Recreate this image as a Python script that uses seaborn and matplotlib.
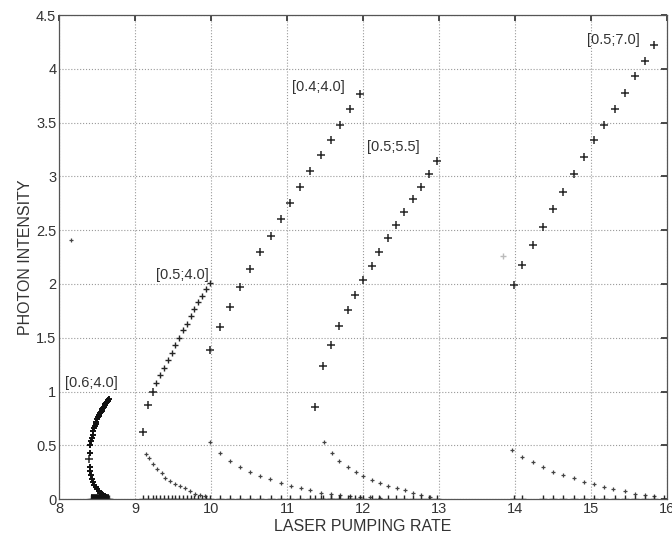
import numpy as np
import pandas as pd
import matplotlib
matplotlib.use("Agg")
import matplotlib.pyplot as plt
import seaborn as sns

# rama superior (+ grandes) y rama inferior (puntos pequeños) por cada caso [a;b]
up_04_40_x = [9.99, 10.12, 10.25, 10.38, 10.51, 10.64, 10.79, 10.92, 11.04, 11.17, 11.30, 11.45, 11.58, 11.70, 11.83, 11.96]
up_04_40_y = [1.39, 1.60, 1.79, 1.97, 2.14, 2.30, 2.45, 2.60, 2.75, 2.90, 3.05, 3.20, 3.34, 3.48, 3.63, 3.77]
lo_04_40_x = [9.99, 10.12, 10.25, 10.38, 10.52, 10.65, 10.78, 10.92, 11.05, 11.18, 11.30, 11.45, 11.58, 11.70, 11.83, 11.96, 12.09, 12.22]
lo_04_40_y = [0.53, 0.43, 0.35, 0.30, 0.25, 0.21, 0.19, 0.15, 0.12, 0.10, 0.08, 0.06, 0.05, 0.04, 0.03, 0.02, 0.015, 0.01]

up_05_55_x = [11.37, 11.47, 11.58, 11.68, 11.80, 11.90, 12.00, 12.12, 12.21, 12.33, 12.43, 12.54, 12.66, 12.76, 12.87, 12.97]
up_05_55_y = [0.86, 1.24, 1.43, 1.61, 1.76, 1.90, 2.04, 2.17, 2.30, 2.43, 2.55, 2.67, 2.79, 2.90, 3.02, 3.14]
lo_05_55_x = [11.49, 11.59, 11.68, 11.80, 11.91, 12.00, 12.12, 12.22, 12.33, 12.45, 12.55, 12.66, 12.77, 12.88]
lo_05_55_y = [0.53, 0.43, 0.35, 0.30, 0.25, 0.21, 0.18, 0.15, 0.12, 0.10, 0.08, 0.06, 0.04, 0.02]

up_05_70_x = [13.99, 14.10, 14.24, 14.37, 14.51, 14.64, 14.78, 14.91, 15.04, 15.17, 15.32, 15.45, 15.58, 15.71, 15.84]
up_05_70_y = [1.99, 2.18, 2.36, 2.53, 2.70, 2.86, 3.02, 3.18, 3.34, 3.48, 3.63, 3.78, 3.93, 4.07, 4.22]
lo_05_70_x = [13.97, 14.10, 14.24, 14.37, 14.50, 14.64, 14.78, 14.91, 15.04, 15.17, 15.30, 15.45, 15.58, 15.71, 15.84]
lo_05_70_y = [0.46, 0.39, 0.34, 0.30, 0.25, 0.22, 0.20, 0.16, 0.14, 0.11, 0.09, 0.07, 0.05, 0.04, 0.03]

up_05_40_x = [9.11, 9.17, 9.23, 9.28, 9.33, 9.38, 9.43, 9.48, 9.53, 9.58, 9.63, 9.68, 9.73, 9.78, 9.83, 9.88, 9.93, 9.99]
up_05_40_y = [0.62, 0.87, 1.00, 1.08, 1.15, 1.22, 1.29, 1.36, 1.43, 1.50, 1.57, 1.63, 1.70, 1.77, 1.83, 1.89, 1.95, 2.01]
lo_05_40_x = [9.15, 9.19, 9.23, 9.29, 9.35, 9.40, 9.46, 9.52, 9.59, 9.66, 9.72, 9.79, 9.85, 9.92]
lo_05_40_y = [0.42, 0.38, 0.33, 0.28, 0.24, 0.20, 0.17, 0.14, 0.12, 0.10, 0.07, 0.05, 0.04, 0.03]

up_06_40_x = [8.41, 8.42, 8.43, 8.44, 8.45, 8.46, 8.47, 8.48, 8.49, 8.50, 8.51, 8.52, 8.53, 8.54, 8.55,
              8.56, 8.57, 8.58, 8.59, 8.60, 8.61, 8.62, 8.63, 8.64, 8.65, 8.66]
up_06_40_y = [0.50, 0.54, 0.57, 0.60, 0.63, 0.66, 0.68, 0.70, 0.72, 0.74, 0.76, 0.77, 0.78, 0.80, 0.81,
              0.82, 0.84, 0.85, 0.86, 0.87, 0.88, 0.89, 0.90, 0.91, 0.92, 0.93]
lo_06_40_x = [8.40, 8.40, 8.41, 8.42, 8.43, 8.44, 8.46, 8.48, 8.50, 8.52, 8.54, 8.56, 8.58, 8.60, 8.62]
lo_06_40_y = [0.43, 0.30, 0.26, 0.22, 0.19, 0.16, 0.13, 0.11, 0.09, 0.07, 0.06, 0.05, 0.04, 0.03, 0.02]
turn_06_40_x = [8.39]
turn_06_40_y = [0.37]

# soluciones de intensidad cero
zero_x = [8.42, 8.44, 8.46, 8.48, 8.50, 8.52, 8.54, 8.56, 8.58, 8.60, 8.62, 8.64, 8.66,
          9.11, 9.17, 9.23, 9.28, 9.33, 9.38, 9.43, 9.48, 9.53, 9.58, 9.63, 9.68, 9.73, 9.78, 9.83, 9.88, 9.93, 9.99,
          10.12, 10.25, 10.38, 10.51, 10.64, 10.79, 10.92, 11.04, 11.17, 11.30, 11.45, 11.58, 11.70, 11.83, 11.96,
          11.37, 11.47, 11.58, 11.68, 11.80, 11.90, 12.00, 12.12, 12.21, 12.33, 12.43, 12.54, 12.66, 12.76, 12.87, 12.97,
          13.99, 14.10, 14.37, 14.51, 14.64, 14.78, 14.91, 15.04, 15.17, 15.32, 15.45, 15.58, 15.71, 15.84, 15.97]

stray_x = [8.15]
stray_y = [2.41]
faint_x = [13.84]
faint_y = [2.26]

labels = ["[0.6;4.0]", "[0.5;4.0]", "[0.4;4.0]", "[0.5;5.5]", "[0.5;7.0]"]
label_x = [8.08, 9.27, 11.06, 12.05, 14.95]
label_y = [1.08, 2.08, 3.83, 3.27, 4.27]

upper = pd.DataFrame({
    "x": up_04_40_x + up_05_55_x + up_05_70_x + up_05_40_x[:3] + turn_06_40_x,
    "y": up_04_40_y + up_05_55_y + up_05_70_y + up_05_40_y[:3] + turn_06_40_y,
})
mid = pd.DataFrame({"x": up_05_40_x[3:], "y": up_05_40_y[3:]})
lower = pd.DataFrame({
    "x": lo_04_40_x + lo_05_55_x + lo_05_70_x + lo_05_40_x + stray_x,
    "y": lo_04_40_y + lo_05_55_y + lo_05_70_y + lo_05_40_y + stray_y,
})
cluster = pd.DataFrame({"x": up_06_40_x + lo_06_40_x, "y": up_06_40_y + lo_06_40_y})
zeros = pd.DataFrame({"x": zero_x, "y": [0.0] * len(zero_x)})

sns.set_theme(style="white")
plt.rcParams["font.family"] = ["Liberation Sans", "DejaVu Sans"]

fig = plt.figure(figsize=(6.72, 5.43), dpi=100)
ax = fig.add_axes([0.088, 0.081, 0.904, 0.891])

ink = "#262626"
sns.scatterplot(data=upper, x="x", y="y", marker="+", s=32, color=ink, linewidth=1.1, ax=ax)
sns.scatterplot(data=mid, x="x", y="y", marker="+", s=24, color=ink, linewidth=1.0, ax=ax)
sns.scatterplot(data=lower, x="x", y="y", marker="+", s=8, color="#444444", linewidth=0.9, ax=ax)
sns.scatterplot(data=cluster, x="x", y="y", marker="+", s=14, color="#111111", linewidth=1.4, ax=ax)
sns.scatterplot(data=zeros, x="x", y="y", marker="+", s=26, color=ink, linewidth=1.0, ax=ax)
ax.plot(faint_x, faint_y, "+", color="#bbbbbb", ms=4)
# barra gruesa de la rama cero del caso [0.6;4.0]
ax.plot([8.42, 8.66], [0, 0], color="#111111", lw=7, solid_capstyle="butt")

for txt, lx, ly in zip(labels, label_x, label_y):
    ax.text(lx, ly, txt, fontsize=10.5, color="#333333", va="center", ha="left")

ax.set_xlim(8, 16)
ax.set_ylim(0, 4.5)
ax.set_xticks(range(8, 17))
ax.set_yticks(np.arange(0, 4.51, 0.5))
ax.set_yticklabels(["0", "0.5", "1", "1.5", "2", "2.5", "3", "3.5", "4", "4.5"])
ax.grid(True, linestyle=":", color="#9a9a9a", linewidth=0.8)
ax.tick_params(direction="in", length=4, top=True, right=True, labelsize=10.5, colors="#333333", pad=2)
for sp in ax.spines.values():
    sp.set_color("#555555")
    sp.set_linewidth(0.9)
ax.set_xlabel("LASER PUMPING RATE", fontsize=11.5, color="#333333", labelpad=2)
ax.set_ylabel("PHOTON INTENSITY", fontsize=11.5, color="#333333", labelpad=2)

fig.savefig("out.png", dpi=100)
